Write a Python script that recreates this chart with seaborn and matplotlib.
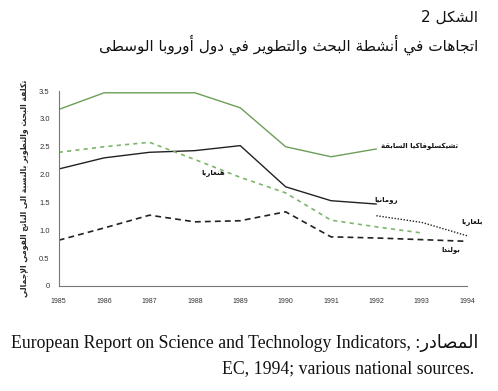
import pandas as pd
import matplotlib
matplotlib.use('Agg')
import matplotlib.pyplot as plt
import seaborn as sns

# Data (R&D spending as share of GNP)
years_czech = [1985, 1986, 1987, 1988, 1989, 1990, 1991, 1992]
czech = [3.17, 3.47, 3.47, 3.47, 3.2, 2.5, 2.32, 2.46]
years_romania = [1985, 1986, 1987, 1988, 1989, 1990, 1991, 1992]
romania = [2.1, 2.3, 2.4, 2.43, 2.52, 1.78, 1.53, 1.47]
years_hungary = [1985, 1986, 1987, 1988, 1989, 1990, 1991, 1992, 1993]
hungary = [2.4, 2.5, 2.58, 2.27, 1.95, 1.67, 1.18, 1.06, 0.95]
years_poland = [1985, 1986, 1987, 1988, 1989, 1990, 1991, 1992, 1993, 1994]
poland = [0.82, 1.04, 1.27, 1.15, 1.17, 1.33, 0.88, 0.86, 0.83, 0.8]
years_bulgaria = [1992, 1993, 1994]
bulgaria = [1.26, 1.14, 0.9]

x_ticks = list(range(1985, 1995))
y_ticks = [0, 0.5, 1.0, 1.5, 2.0, 2.5, 3.0, 3.5]
y_tick_labels = ['0', '0.5', '1.0', '1.5', '2.0', '2.5', '3.0', '3.5']

title_1 = 'الشكل'
title_2 = 'اتجاهات في أنشطة البحث والتطوير في دول أوروبا الوسطى'
y_label = 'تكلفة البحث والتطوير بالنسبة الى الناتج القومي الإجمالي'
name_czech = 'تشيكسلوفاكيا السابقة'
name_hungary = 'هنغاريا'
name_romania = 'رومانيا'
name_bulgaria = 'بلغاريا'
name_poland = 'بولندا'
source_ar = 'المصادر'
source_en_1 = 'European Report on Science and Technology Indicators,'
source_en_2 = 'EC, 1994; various national sources.'

# matplotlib has no Arabic shaping: map letters to presentation forms by hand
TWO = {'آ': 0xFE81, 'أ': 0xFE83, 'ؤ': 0xFE85, 'إ': 0xFE87, 'ا': 0xFE8D, 'ة': 0xFE93,
       'د': 0xFEA9, 'ذ': 0xFEAB, 'ر': 0xFEAD, 'ز': 0xFEAF, 'و': 0xFEED, 'ى': 0xFEEF}
FOUR = {'ئ': 0xFE89, 'ب': 0xFE8F, 'ت': 0xFE95, 'ث': 0xFE99, 'ج': 0xFE9D, 'ح': 0xFEA1,
        'خ': 0xFEA5, 'س': 0xFEB1, 'ش': 0xFEB5, 'ص': 0xFEB9, 'ض': 0xFEBD, 'ط': 0xFEC1,
        'ظ': 0xFEC5, 'ع': 0xFEC9, 'غ': 0xFECD, 'ف': 0xFED1, 'ق': 0xFED5, 'ك': 0xFED9,
        'ل': 0xFEDD, 'م': 0xFEE1, 'ن': 0xFEE5, 'ه': 0xFEE9, 'ي': 0xFEF1}
LAMALEF = {'آ': 0xFEF5, 'أ': 0xFEF7, 'إ': 0xFEF9, 'ا': 0xFEFB}


def rtl(s):
    units = []
    i = 0
    while i < len(s):
        c = s[i]
        if c == 'ل' and i + 1 < len(s) and s[i + 1] in LAMALEF:
            units.append(('2', LAMALEF[s[i + 1]]))
            i += 2
            continue
        if c in FOUR:
            units.append(('4', FOUR[c]))
        elif c in TWO:
            units.append(('2', TWO[c]))
        else:
            units.append(('x', c))
        i += 1
    out = []
    for j, (kind, base) in enumerate(units):
        if kind == 'x':
            out.append(base)
            continue
        prev = j > 0 and units[j - 1][0] == '4'
        nxt = kind == '4' and j + 1 < len(units) and units[j + 1][0] in '24'
        if kind == '2':
            off = 1 if prev else 0
        else:
            off = {(False, False): 0, (True, False): 1, (False, True): 2, (True, True): 3}[(prev, nxt)]
        out.append(chr(base + off))
    return ''.join(out)[::-1]


sns.set_style('white')
plt.rcParams['font.family'] = ['Liberation Sans', 'DejaVu Sans']

fig = plt.figure(figsize=(4.98, 3.91), dpi=100)
ax = fig.add_axes([0.118, 0.269, 0.82, 0.498])

green = '#6a9f58'
green_light = '#7db56c'
dark = '#222222'

sns.lineplot(x=years_czech, y=czech, ax=ax, color=green, lw=1.0)
sns.lineplot(x=years_romania, y=romania, ax=ax, color=dark, lw=1.0)
sns.lineplot(x=years_hungary, y=hungary, ax=ax, color=green_light, lw=1.2,
             linestyle=(0, (2.5, 2.5)))
sns.lineplot(x=years_poland, y=poland, ax=ax, color=dark, lw=1.2, linestyle=(0, (3.5, 2.5)))
sns.lineplot(x=years_bulgaria, y=bulgaria, ax=ax, color=dark, lw=1.0, linestyle=(0, (1, 1.2)))

ax.set_xlim(1985, 1994)
ax.set_ylim(0, 3.5)
ax.set_xticks(x_ticks)
ax.set_xticklabels([str(y) for y in x_ticks])
ax.set_yticks(y_ticks)
ax.set_yticklabels(y_tick_labels)
ax.tick_params(axis='x', direction='in', length=7, width=0.8, color='#666666', pad=9,
               labelsize=5, labelcolor='#333333')
ax.tick_params(axis='y', direction='out', length=5, width=0.8, color='#666666', pad=1.5,
               labelsize=5.5, labelcolor='#333333')
for side in ['top', 'right']:
    ax.spines[side].set_visible(False)
for side in ['left', 'bottom']:
    ax.spines[side].set_color('#777777')
    ax.spines[side].set_linewidth(0.8)

ax.set_ylabel(rtl(y_label), fontsize=5.5, fontweight='bold', family='DejaVu Sans', labelpad=7)

# Series labels
lab = dict(fontsize=5, fontweight='bold', family='DejaVu Sans', color='#111111',
           va='center', clip_on=False)
ax.text(1992.1, 2.51, rtl(name_czech), ha='left', **lab)
ax.text(1988.4, 2.03, rtl(name_hungary), ha='center', **lab)
ax.text(1992.22, 1.55, rtl(name_romania), ha='center', **lab)
ax.text(1994.1, 1.15, rtl(name_bulgaria), ha='center', **lab)
ax.text(1993.63, 0.65, rtl(name_poland), ha='center', **lab)

# Title and source
fig.text(0.96, 0.955, '2 ' + rtl(title_1), ha='right', va='center', fontsize=11,
         family='DejaVu Sans', color='#111111')
fig.text(0.96, 0.885, rtl(title_2), ha='right', va='center', fontsize=11,
         family='DejaVu Sans', color='#111111')
fig.text(0.96, 0.122, source_en_1 + ' :' + rtl(source_ar), ha='right', va='center',
         fontsize=12.8, family=['Liberation Serif', 'DejaVu Sans'], color='#111111')
fig.text(0.952, 0.058, source_en_2, ha='right', va='center', fontsize=12.8,
         family=['Liberation Serif', 'DejaVu Sans'], color='#111111')

fig.savefig('out.png', dpi=100)
